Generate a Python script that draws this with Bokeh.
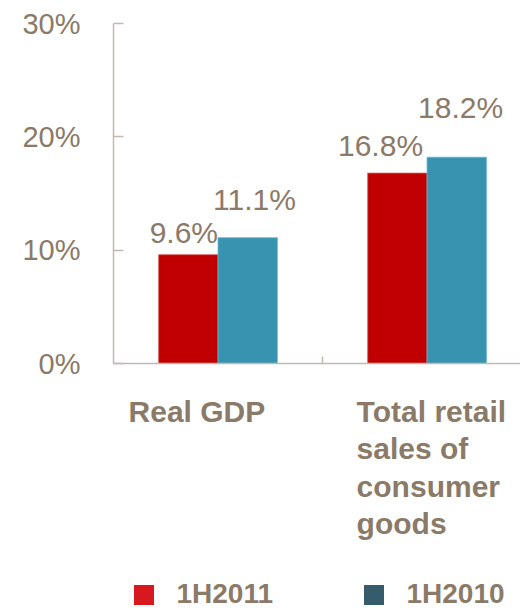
from bokeh.plotting import figure
from bokeh.models import (ColumnDataSource, Range1d, FixedTicker, PrintfTickFormatter,
                          Legend, LegendItem)
from bokeh.core.properties import value
from bokeh.embed import file_html
from bokeh.resources import INLINE

# ---- data ----
categories = ["Real GDP", "Total retail\nsales of\nconsumer\ngoods"]
series_names = ["1H2011", "1H2010"]
values_2011 = [9.6, 16.8]
values_2010 = [11.1, 18.2]
y_ticks = [0, 10, 20, 30]

# ---- styles ----
FONT = "Liberation Sans"
TXT = "#8b7a68"
AXIS = "#c2bab2"
BAR_COLORS = ["#c00000", "#3893b0"]
LEG_COLORS = ["#d7191f", "#365b6a"]

n = len(categories)
centers = [i + 0.5 for i in range(n)]
bw = 0.284
off = 0.142

PX_PER_UNIT = 340 / 30.0
frame_h = 610 - 23
y_start = 30 - frame_h / PX_PER_UNIT

p = figure(width=520, height=610, output_backend="svg", toolbar_location=None,
           x_range=Range1d(0, 1.947), y_range=Range1d(y_start, 30),
           min_border_left=113, min_border_right=0, min_border_top=23,
           min_border_bottom=0)
p.outline_line_color = None
p.xgrid.visible = False
p.ygrid.visible = False
p.background_fill_color = "white"
p.border_fill_color = "white"

src1 = ColumnDataSource(dict(x=[c - off for c in centers], top=values_2011))
src2 = ColumnDataSource(dict(x=[c + off for c in centers], top=values_2010))
p.vbar(x="x", top="top", bottom=0, width=bw, source=src1, fill_color=BAR_COLORS[0],
       line_color="#d85a5a", line_width=0.8)
p.vbar(x="x", top="top", bottom=0, width=bw, source=src2, fill_color=BAR_COLORS[1],
       line_color="#62b6cf", line_width=0.8)

# data labels (positions tuned in pixels)
lab_x = [centers[0], centers[0], centers[1], centers[1]]
lab_y = [values_2011[0], values_2010[0], values_2011[1], values_2010[1]]
lab_t = [f"{v}%" for v in lab_y]
lab_align = ["right", "left", "right", "left"]
lab_xoff = [0, -5, -4, -9]
lab_yoff = [-22, -38, -28, -50]
lsrc = ColumnDataSource(dict(x=lab_x, y=lab_y, t=lab_t, a=lab_align, xo=lab_xoff, yo=lab_yoff))
p.text(x="x", y="y", text="t", text_align="a", x_offset="xo", y_offset="yo",
       text_baseline="alphabetic", source=lsrc, text_font=value(FONT),
       text_font_size="30px", text_color=TXT)

# category labels (left-aligned multi-line, below the x axis)
csrc = ColumnDataSource(dict(x=[centers[0] - 0.428, centers[1] - 0.337],
                             y=[0, 0], t=categories))
p.text(x="x", y="y", text="t", source=csrc, text_align="left", text_baseline="top",
       y_offset=31, text_font=value(FONT), text_font_size="30px",
       text_font_style="bold", text_color=TXT, text_line_height=1.14)

# y axis
ya = p.yaxis[0]
ya.ticker = FixedTicker(ticks=y_ticks)
ya.formatter = PrintfTickFormatter(format="%d%%")
ya.bounds = (0, 30)
ya.axis_line_color = AXIS
ya.axis_line_width = 1.5
ya.major_tick_line_color = AXIS
ya.major_tick_line_width = 1.5
ya.major_tick_in = 10
ya.major_tick_out = 0
ya.minor_tick_line_color = None
ya.major_label_standoff = 33
ya.major_label_text_font = FONT
ya.major_label_text_font_size = "29px"
ya.major_label_text_color = TXT

# x axis at y = 0 (category boundary tick only)
xa = p.xaxis[0]
xa.fixed_location = 0
xa.ticker = FixedTicker(ticks=[], minor_ticks=[1.0])
xa.major_label_text_font_size = "0px"
xa.major_label_standoff = 0
xa.axis_line_color = AXIS
xa.axis_line_width = 1.5
xa.major_tick_line_color = None
xa.major_tick_in = 0
xa.major_tick_out = 0
xa.minor_tick_line_color = AXIS
xa.minor_tick_line_width = 1.5
xa.minor_tick_in = 7
xa.minor_tick_out = 0

# legend (swatch renderers placed outside the visible x range)
d1 = p.vbar(x=[-5], top=[1], width=0.1, fill_color=LEG_COLORS[0], line_color=None)
d2 = p.vbar(x=[-5], top=[1], width=0.1, fill_color=LEG_COLORS[1], line_color=None)
legend = Legend(items=[LegendItem(label=series_names[0], renderers=[d1]),
                       LegendItem(label=series_names[1], renderers=[d2])],
                orientation="horizontal", location=(17.5, 0),
                glyph_width=25, glyph_height=25, label_standoff=21,
                label_width=178, spacing=6, padding=0, margin=0,
                border_line_color=None, background_fill_alpha=0,
                label_text_font=FONT, label_text_font_size="28px",
                label_text_font_style="bold", label_text_color=TXT)
p.add_layout(legend, "center")

open("out.html", "w").write(file_html(p, INLINE))
